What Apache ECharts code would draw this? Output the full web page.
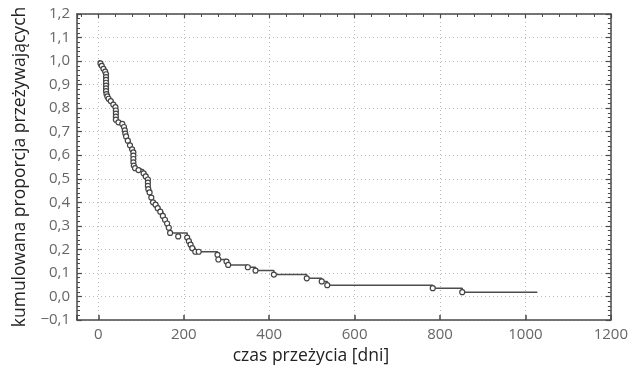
<!DOCTYPE html>
<html>
<head>
<meta charset="utf-8">
<script src="https://cdn.jsdelivr.net/npm/echarts@6/dist/echarts.min.js"></script>
<style>
  html, body { margin: 0; padding: 0; background: #fff; }
  #chart { width: 631px; height: 374px; }
</style>
</head>
<body>
<div id="chart"></div>
<script>
// step curve (time in days, cumulative survival)
var stepTime = [0, 5, 8, 12, 16, 18, 18, 18, 18, 18, 18, 18, 19, 21, 24, 29, 35, 40,
    41, 41, 41, 41, 47, 56, 60, 62, 63, 65, 69, 74, 79, 82, 82, 82, 82, 83, 86, 94, 106, 111,
    116, 116, 116, 117, 120, 124, 128, 134, 139, 145, 151, 156, 161, 165, 168,
    208, 212, 216, 220, 227, 235, 279, 281, 300, 304, 350, 368, 411, 488, 523, 536, 783, 852, 1028];
var stepSurv = [1.0, 0.99, 0.98, 0.967, 0.955, 0.944, 0.932, 0.92, 0.908, 0.896, 0.884, 0.872, 0.86, 0.85, 0.84, 0.83, 0.815, 0.804,
    0.79, 0.777, 0.764, 0.751, 0.74, 0.733, 0.72, 0.706, 0.692, 0.68, 0.662, 0.642, 0.625, 0.612, 0.598, 0.584, 0.57, 0.556, 0.545, 0.537, 0.523, 0.51,
    0.497, 0.484, 0.47, 0.456, 0.442, 0.42, 0.40, 0.39, 0.375, 0.36, 0.342, 0.326, 0.31, 0.292, 0.27,
    0.25, 0.235, 0.22, 0.205, 0.19, 0.19, 0.177, 0.157, 0.148, 0.134, 0.124, 0.11, 0.093, 0.077, 0.064, 0.048, 0.035, 0.018, 0.018];
// extra marker off the curve
var extraTime = [187];
var extraSurv = [0.255];

var yTicks = { min: -0.1, max: 1.2, step: 0.1 };
var xTicks = { min: -50, max: 1200 };

var chart = echarts.init(document.getElementById('chart'));

var linePts = stepTime.map(function (t, i) { return [t, stepSurv[i]]; });
var markPts = linePts.slice(1, linePts.length - 1);
extraTime.forEach(function (t, i) { markPts.push([t, extraSurv[i]]); });

var font = 'Open Sans';
var axisCol = '#4a4a4a';

function fmtY(v) {
    return v.toFixed(1).replace('.', ',').replace('-', '\u2212');
}

var option = {
    animation: false,
    grid: { left: 77, right: 14, top: 14, bottom: 54 },
    xAxis: [{
        type: 'value',
        position: 'bottom',
        min: xTicks.min,
        max: xTicks.max,
        splitNumber: 6,
        name: 'czas przeżycia [dni]',
        nameLocation: 'middle',
        nameGap: 24,
        nameTextStyle: { fontFamily: font, fontSize: 17.5, color: '#222', padding: [0, 66, 0, 0] },
        axisLine: { onZero: false, lineStyle: { color: axisCol, width: 1.5 } },
        axisTick: { inside: true, length: 5, lineStyle: { color: axisCol, width: 1.5 } },
        axisLabel: {
            fontFamily: font, fontSize: 15, color: '#666', margin: 7,
            formatter: function (v) { return v < 0 ? '' : String(v); }
        },
        splitLine: { show: true, lineStyle: { color: '#bbb', type: [1, 3], width: 1 } }
    }, {
        type: 'value',
        position: 'top',
        min: xTicks.min,
        max: xTicks.max,
        splitNumber: 6,
        axisLine: { onZero: false, lineStyle: { color: axisCol, width: 1.5 } },
        axisTick: { inside: true, length: 4, lineStyle: { color: axisCol, width: 1.2 } },
        minorTick: { show: true, splitNumber: 5, length: 3, lineStyle: { color: axisCol, width: 1 } },
        axisLabel: { show: false },
        splitLine: { show: false }
    }],
    yAxis: [{
        type: 'value',
        position: 'left',
        min: yTicks.min,
        max: yTicks.max,
        interval: yTicks.step,
        name: 'kumulowana proporcja przeżywających',
        nameLocation: 'middle',
        nameGap: 47,
        nameTextStyle: { fontFamily: font, fontSize: 17.5, color: '#222' },
        axisLine: { onZero: false, lineStyle: { color: axisCol, width: 1.5 } },
        axisTick: { inside: true, length: 5, lineStyle: { color: axisCol, width: 1.2 } },
        minorTick: { show: true, splitNumber: 5, length: 3, lineStyle: { color: axisCol, width: 1 } },
        axisLabel: { fontFamily: font, fontSize: 15, color: '#666', margin: 7, formatter: fmtY },
        splitLine: { show: true, lineStyle: { color: '#bbb', type: [1, 3], width: 1 } }
    }, {
        type: 'value',
        position: 'right',
        min: yTicks.min,
        max: yTicks.max,
        interval: yTicks.step,
        axisLine: { onZero: false, lineStyle: { color: axisCol, width: 1.5 } },
        axisTick: { inside: true, length: 5, lineStyle: { color: axisCol, width: 1.2 } },
        minorTick: { show: true, splitNumber: 5, length: 3, lineStyle: { color: axisCol, width: 1 } },
        axisLabel: { show: false },
        splitLine: { show: false }
    }],
    series: [{
        type: 'line',
        step: 'end',
        data: linePts,
        showSymbol: false,
        symbol: 'none',
        lineStyle: { color: '#4d4d4d', width: 1.5 },
        z: 2
    }, {
        type: 'scatter',
        data: markPts,
        symbol: 'circle',
        symbolSize: 5,
        itemStyle: { color: '#fff', borderColor: '#444', borderWidth: 1.2, opacity: 1 },
        z: 3
    }]
};

chart.setOption(option);
</script>
</body>
</html>
